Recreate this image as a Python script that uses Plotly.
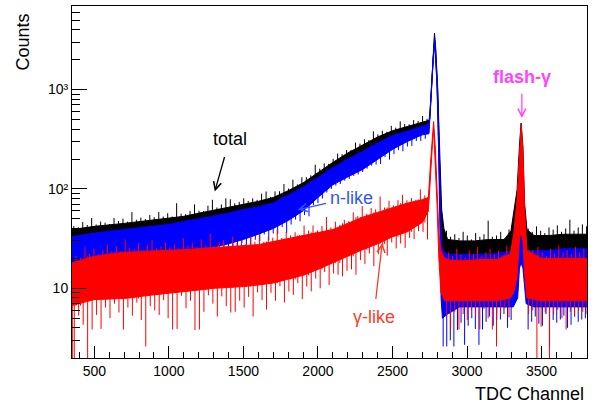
import math
import numpy as np
import plotly.graph_objects as go

# ---------------- data ----------------
# dense core of each noisy histogram: channel grid, upper and lower edge
tot_ch = [350, 500, 700, 900, 1000, 1100, 1200, 1300, 1400, 1500,
          1600, 1700, 1800, 1900, 2000, 2100, 2200, 2300, 2400, 2500,
          2600, 2700, 2745, 2752, 2760, 2767, 2774, 2782, 2790, 2797,
          2804, 2812, 2821, 2830, 2845, 2870, 2950, 3050, 3150, 3250,
          3295, 3313, 3336, 3353, 3363, 3375, 3386, 3402, 3450, 3550,
          3650, 3750, 3805]
tot_hi = [39, 42, 45, 49, 51, 53, 57, 61, 65, 70,
          75, 82, 96, 115, 147, 185, 230, 275, 333, 385,
          425, 470, 490, 600, 1000, 1650, 2600, 3690, 2600, 1600,
          1000, 400, 120, 62, 40, 31, 30, 30, 31, 31,
          38, 57, 98, 290, 459, 268, 73, 39, 34, 34,
          35, 35, 35]
tot_lo = [27, 28, 30, 32, 34, 37, 39, 42, 46, 50,
          52, 58, 68, 82, 105, 130, 160, 195, 240, 290,
          330, 375, 400, 480, 800, 1400, 2200, 3000, 2150, 1300,
          760, 250, 60, 30, 20, 19, 19, 19, 19, 19,
          20, 22, 25, 30, 33, 28, 24, 21, 20, 20,
          21, 21, 21]

nl_ch = [350, 500, 700, 900, 1000, 1100, 1200, 1300, 1400, 1500,
         1600, 1700, 1800, 1900, 2000, 2100, 2200, 2300, 2400, 2500,
         2600, 2700, 2745, 2752, 2760, 2767, 2774, 2782, 2790, 2797,
         2804, 2812, 2819, 2826, 2835, 2870, 2950, 3050, 3150, 3250,
         3310, 3340, 3352, 3363, 3375, 3397, 3450, 3550, 3650, 3750,
         3805]
nl_hi = [33, 36, 39, 42, 44, 47, 50, 53, 57, 62,
         66, 72, 86, 104, 130, 163, 200, 238, 290, 345,
         380, 425, 450, 540, 920, 1550, 2450, 3450, 2450, 1500,
         900, 330, 110, 40, 24, 22, 22, 22, 22, 23,
         24, 28, 31, 33, 30, 24, 24, 24, 25, 25,
         25]
nl_lo = [17, 18, 19, 20, 22, 24, 25, 26, 28, 31,
         35, 40, 48, 60, 82, 110, 132, 157, 200, 250,
         300, 350, 360, 420, 750, 1300, 2100, 2900, 2050, 1250,
         700, 220, 50, 8, 5, 5.5, 6.5, 6.5, 6.5, 6.5,
         6.5, 8, 16, 18, 16, 7, 6.5, 6.5, 6.5, 6.5,
         6.5]

gl_ch = [350, 500, 700, 900, 1000, 1100, 1200, 1300, 1400, 1500,
         1600, 1700, 1800, 1900, 2000, 2100, 2200, 2300, 2400, 2500,
         2600, 2700, 2741, 2755, 2768, 2776, 2788, 2799, 2811, 2825,
         2850, 2900, 3000, 3100, 3200, 3290, 3313, 3336, 3353, 3363,
         3375, 3386, 3402, 3500, 3600, 3700, 3805]
gl_hi = [18, 21, 23, 24, 24.2, 24.5, 25, 25.5, 26, 26.5,
         27.5, 29.5, 31.5, 34, 36.5, 39, 45, 52, 58, 65,
         72, 78, 82, 180, 380, 477, 250, 116, 36, 24,
         20, 19, 19, 19.5, 19.5, 22, 35, 80, 270, 445,
         250, 65, 24, 20, 20, 20, 20]
gl_lo = [6.7, 7.7, 7.9, 8.6, 9, 9.3, 9.6, 10, 10.2, 10.4,
         10.8, 11.3, 12.3, 13.5, 15.5, 18, 21, 24.5, 28, 33,
         37, 46, 60, 130, 280, 400, 170, 70, 20, 9,
         7.5, 7.5, 7.5, 7.5, 7.5, 8, 9, 13, 33, 35,
         30, 14, 8, 7.5, 7.5, 7.5, 7.5]

# single bins that stick out of the dense core (bin channel -> bin content)
tot_up_ch = list(range(362, 2733, 30)) + list(range(2862, 3283, 28)) + list(range(3410, 3803, 28))
tot_up_val = [42.3, 41.2, 46.4, 43.4, 51, 43.9, 46.9, 45.7, 44.4, 51, 47.5, 50.3, 46.8, 58.4, 49, 51.4, 49.8, 54.8, 51.9, 58.5,
              52.8, 57, 52.9, 71.8, 56.3, 55.6, 60.2, 69.9, 60.4, 59.9, 67.8, 77.7, 65, 69.9, 80.4, 78.7, 71.7, 74.1, 80.5, 75.9,
              80.3, 77.6, 89.5, 94.3, 83.2, 94.6, 94.9, 112, 101, 124, 111, 131, 131, 137, 175, 160, 181, 179, 201, 227,
              224, 246, 247, 293, 286, 316, 311, 380, 354, 385, 376, 431, 414, 479, 451, 447, 493, 484, 542, 508,
              38, 33, 35, 32, 37, 34, 31, 36, 33, 35, 48, 33, 34, 37, 32, 39,
              40, 37, 42, 38, 36, 41, 39, 43, 37, 40, 49, 38, 41, 44, 42]

nl_dn_ch = list(range(1310, 2721, 30)) + list(range(2840, 3297, 24)) + list(range(3410, 3795, 24))
nl_dn_val = [22.3, 24.7, 21.4, 26.6, 25.4, 23.8, 28.6, 27.3, 24.8, 30.8, 29.8, 34.8, 30.4, 35.6, 35.2, 41.2, 35.9, 43.8, 49.1, 47.2,
             54.6, 53, 68.8, 72, 80, 92, 100, 108, 112, 121, 126, 135, 140, 148, 160, 172, 176, 178.5, 209, 197,
             224, 246, 239, 267, 271, 304, 304, 320,
             2.6, 2.6, 3, 2.6, 3.8, 4.5, 2.7, 4.2, 5, 3.9, 2.7, 3.85, 4.6, 5.2, 4.2, 4.8, 4.85, 5.5, 4, 4.8,
             3.85, 4.6, 5.2, 4.4, 4.2, 5.5, 2.6, 4.8, 4.5, 4.85, 5.3, 4, 4.3, 5.2, 4.6, 4.85, 5]

gl_up_ch = list(range(377, 2718, 30)) + list(range(2875, 3268, 28)) + list(range(3420, 3785, 28))
gl_up_val = [21.3, 20.2, 25.9, 22.1, 25.2, 21.9, 24.2, 27.4, 23.5, 26.6, 23.8, 31, 25.5, 25, 28.7, 24.4, 27.1, 30.7, 25.2, 26.5,
             29, 25.7, 27.5, 25.1, 31.9, 26.8, 28.8, 25.9, 31.1, 27, 35.6, 26.8, 28.8, 30.7, 26.8, 33.1, 28.4, 30.1, 28, 32.9,
             29.5, 34.8, 29.3, 33.1, 32.3, 39.6, 32.1, 36.8, 34.1, 36.6, 34.4, 42.8, 38, 42.8, 38.2, 42.4, 52.3, 41, 46.8, 43.5,
             48.8, 47.3, 58.1, 53.2, 67.3, 56.3, 64.3, 62.3, 84.1, 65, 76.1, 68.1, 77.1, 87.1, 76.8, 81, 77.7, 98.8, 86.1,
             23, 21, 25, 22, 20.5, 24, 22, 26, 21, 23, 25, 22, 24, 21.5, 27,
             24, 22, 26, 23, 21, 25, 22.5, 27, 23, 24, 22, 26, 23, 25]

gl_dn_ch = [352, 2735] + list(range(365, 2706, 30)) + list(range(2862, 3283, 28)) + list(range(3413, 3806, 28))
gl_dn_val = [1.9, 31,
             1.9, 5.3, 4.3, 1.9, 3.85, 5.4, 3.9, 6.4, 5, 7, 5.7, 3.85, 6.4, 5.3, 7.2, 4.8, 2.6, 6.6, 6, 5.4,
             7.6, 5, 3.85, 3.9, 8.4, 6.3, 7.5, 3.8, 3.85, 5.8, 8.5, 7, 5.2, 8.3, 6.6, 5.7, 5.8, 7.5, 6.4, 8.2,
             5.2, 9.1, 7.6, 6.1, 9, 7.5, 10.5, 7.2, 9.3, 8.6, 11.3, 7.8, 10.4, 9.3, 12.5, 10, 14.6, 10.8, 14.1, 13.7,
             13.2, 15, 15.5, 13.7, 19.2, 17.5, 22.4, 16.7, 22, 26, 21.3, 28.9, 25.2, 28.2, 25.5, 32.2, 31.2, 37.5, 37,
             5.2, 3.85, 5.8, 3.85, 5.5, 4.8, 6, 5.3, 3.85, 6.2, 5, 3.85, 2.6, 5.6, 6.3, 5.1,
             5.5, 6, 1.9, 4.1, 5.7, 1.9, 5.4, 6.1, 5, 3.85, 5.8, 5.2, 6, 5.8, 5.5]

x_major = [500, 1000, 1500, 2000, 2500, 3000, 3500]
y_major = [10, 100, 1000]
y_major_text = ["10", "10\u00b2", "10\u00b3"]

BLACK, BLUE, RED = "#000000", "#0000ff", "#ff0000"
FONT = "Liberation Sans, Arial, Helvetica, sans-serif"


def band(ch, hi, lo, color):
    return go.Scatter(x=list(ch) + list(ch)[::-1], y=list(hi) + list(lo)[::-1],
                      fill="toself", fillcolor=color, mode="lines",
                      line=dict(color=color, width=1), hoverinfo="skip",
                      showlegend=False)


def spikes(sp_ch, sp_val, grid_ch, base_vals, color):
    """vertical bin lines from the bin content back into the core band"""
    g = np.asarray(grid_ch)
    xs, ys = [], []
    for c, v in zip(sp_ch, sp_val):
        b = base_vals[int(np.argmin(np.abs(g - c)))]
        xs += [c, c, None]
        ys += [v, b, None]
    return go.Scatter(x=xs, y=ys, mode="lines", line=dict(color=color, width=1),
                      hoverinfo="skip", showlegend=False)


fig = go.Figure()
fig.add_trace(band(tot_ch, tot_hi, tot_lo, BLACK))
fig.add_trace(spikes(tot_up_ch, tot_up_val, tot_ch, tot_lo, BLACK))
fig.add_trace(band(nl_ch, nl_hi, nl_lo, BLUE))
fig.add_trace(spikes(nl_dn_ch, nl_dn_val, nl_ch, nl_hi, BLUE))
fig.add_trace(band(gl_ch, gl_hi, gl_lo, RED))
fig.add_trace(spikes(gl_up_ch, gl_up_val, gl_ch, gl_lo, RED))
fig.add_trace(spikes(gl_dn_ch, gl_dn_val, gl_ch, gl_hi, RED))

y_minor = [m * 10 ** d for d in range(0, 4) for m in range(2, 10) if 2 <= m * 10 ** d <= 6900]

fig.update_xaxes(range=[350, 3805], showline=True, mirror=True, linecolor="black", linewidth=1,
                 showgrid=False, zeroline=False, ticks="inside", ticklen=12, tickwidth=1,
                 tickcolor="black", tickvals=x_major,
                 tickfont=dict(family=FONT, size=14, color="black"),
                 minor=dict(ticks="inside", ticklen=6, tickwidth=1, tickcolor="black", dtick=100,
                            showgrid=False))
fig.update_yaxes(type="log", range=[0.2985, 3.841], showline=True, mirror=True, linecolor="black",
                 linewidth=1, showgrid=False, zeroline=False, ticks="inside", ticklen=15,
                 tickwidth=1, tickcolor="black", tickvals=y_major, ticktext=y_major_text,
                 tickfont=dict(family=FONT, size=14, color="black"),
                 minor=dict(ticks="inside", ticklen=8, tickwidth=1, tickcolor="black",
                            tickvals=y_minor, showgrid=False))

ann = []
ann.append(dict(text="TDC Channel", xref="paper", yref="paper", x=1, y=0, xanchor="right",
                yanchor="middle", xshift=-1, yshift=-36, showarrow=False,
                font=dict(family=FONT, size=18, color="black")))
ann.append(dict(text="Counts", xref="paper", yref="paper", x=0, y=1, xanchor="center",
                yanchor="top", xshift=-50, yshift=-6, textangle=-90, showarrow=False,
                font=dict(family=FONT, size=18, color="black")))

# label text position, arrow head position, gap between text and arrow start
labels = [
    ("total", 1408, 320, 1308, 94.4, 7, BLACK),
    ("n-like", 2222, 81.6, 1864, 61.8, 2, "#2f55ff"),
    ("\u03b3-like", 2375, 5.2, 2431, 28.6, 6, "#ff3b2b"),
    ("<b>flash-\u03b3</b>", 3368, 1327, 3368, 516, 5, "#ff44ff"),
]
for t, tx, ty, hx, hy, gap, col in labels:
    ann.append(dict(text=t, x=hx, y=math.log10(hy), ax=tx, ay=math.log10(ty),
                    xref="x", yref="y", axref="x", ayref="y", showarrow=True,
                    arrowhead=5, arrowsize=1.2, arrowwidth=1.3, arrowcolor=col,
                    startstandoff=gap, font=dict(family=FONT, size=18, color=col)))

fig.update_layout(width=594, height=404, margin=dict(l=71.5, r=7.3, t=6, b=45.5),
                  paper_bgcolor="white", plot_bgcolor="white", showlegend=False,
                  annotations=ann, font=dict(family=FONT))
fig.write_html("out.html")
